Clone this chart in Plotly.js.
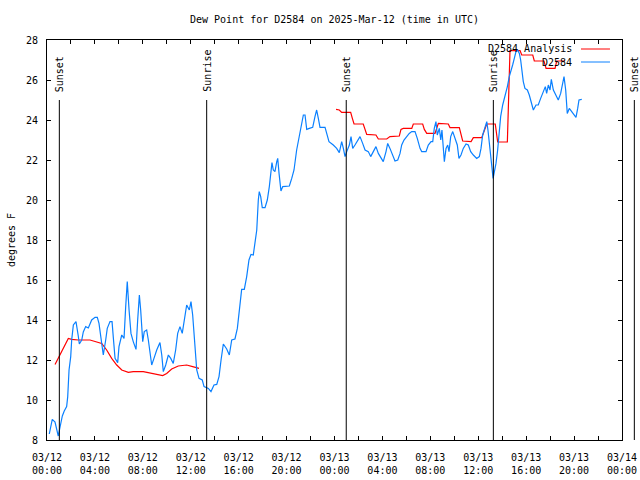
<!DOCTYPE html>
<html>
<head>
<meta charset="utf-8">
<script src="https://cdn.plot.ly/plotly-3.0.1.min.js"></script>
<style>html,body{margin:0;padding:0;background:#fff;}#chart{width:640px;height:480px;}</style>
</head>
<body>
<div id="chart"></div>
<script>
// Hours after 2025-03-12 00:00 UTC
const obsHours = [0.19,0.44,0.67,0.81,0.94,1.09,1.28,1.44,1.64,1.73,1.84,1.98,2.06,2.2,2.42,2.61,2.7,2.9,3.03,3.23,3.45,3.73,4.01,4.2,4.34,4.51,4.7,4.9,5.03,5.26,5.43,5.53,5.68,5.9,6.01,6.24,6.43,6.57,6.7,6.85,7.01,7.2,7.43,7.57,7.71,7.82,7.99,8.12,8.32,8.46,8.6,8.74,8.93,9.16,9.43,9.58,9.71,9.91,10.13,10.33,10.54,10.74,10.91,11.1,11.29,11.46,11.66,11.88,12.02,12.16,12.36,12.5,12.69,12.96,13.11,13.33,13.47,13.69,13.94,14.17,14.36,14.53,14.72,15.0,15.22,15.42,15.69,15.89,16.11,16.25,16.47,16.67,16.86,17.03,17.22,17.36,17.51,17.64,17.72,17.84,17.97,18.2,18.39,18.56,18.67,18.78,18.89,19.03,19.18,19.26,19.37,19.45,19.53,19.68,20.01,20.23,20.43,20.62,20.84,21.06,21.26,21.4,21.54,21.68,21.9,22.18,22.37,22.51,22.65,22.79,23.21,23.35,23.54,23.9,24.18,24.4,24.6,24.74,24.88,25.02,25.24,25.38,25.52,25.71,25.9,26.13,26.35,26.55,26.82,27.02,27.24,27.46,27.66,27.94,28.07,28.3,28.44,28.63,28.86,29.05,29.28,29.47,29.61,29.8,30.03,30.24,30.45,30.72,30.91,31.14,31.28,31.64,31.83,32.06,32.2,32.33,32.47,32.58,32.75,32.87,32.97,33.08,33.17,33.31,33.45,33.56,33.7,33.87,34.0,34.14,34.25,34.39,34.56,34.75,34.98,35.17,35.37,35.59,35.87,36.09,36.23,36.37,36.56,36.71,36.81,36.92,37.04,37.15,37.24,37.32,37.48,37.62,37.76,37.87,38.04,38.23,38.43,38.59,38.73,38.87,39.01,39.15,39.29,39.43,39.54,39.63,39.76,39.9,40.1,40.26,40.46,40.6,40.82,41.01,41.21,41.43,41.6,41.71,41.85,41.99,42.1,42.27,42.41,42.55,42.68,42.88,43.05,43.16,43.3,43.43,43.6,43.8,44.02,44.16,44.3,44.41,44.64];
const obsDew = [8.3,9.03,8.9,8.6,8.2,8.65,9.2,9.45,9.67,10.17,11.5,12.17,13.0,13.75,13.92,13.2,12.8,13.0,13.4,13.67,13.6,14.0,14.13,14.13,13.83,13.08,12.25,13.0,13.58,13.92,13.92,13.17,12.08,11.87,12.67,13.25,13.08,14.67,15.92,14.5,13.33,12.92,12.53,14.0,15.25,14.5,12.92,13.42,13.5,13.0,12.33,11.75,12.08,12.5,12.87,12.25,11.42,11.75,12.25,12.08,11.83,12.5,13.33,13.67,13.33,14.0,14.75,14.5,14.92,14.25,12.83,11.5,11.08,11.0,10.67,10.6,10.58,10.42,10.75,10.78,11.17,12.0,12.8,12.55,12.25,13.0,13.05,13.58,14.67,15.53,15.53,16.17,17.0,17.28,17.25,17.83,18.5,20.0,20.42,20.17,19.62,19.62,20.0,20.67,21.5,21.87,21.5,21.42,21.92,22.08,21.33,20.67,20.45,20.67,20.67,20.7,21.08,21.5,22.5,23.17,23.83,24.25,24.25,23.53,23.58,23.63,24.17,24.5,24.08,23.63,23.63,23.37,22.92,22.75,22.58,22.37,22.92,22.58,22.17,22.42,22.75,23.17,22.58,22.75,22.92,23.17,22.83,22.5,22.42,22.17,22.42,22.67,22.33,22.08,21.92,22.42,22.83,22.58,22.17,21.95,22.0,22.33,22.75,23.0,23.17,23.33,23.42,23.42,23.08,22.58,22.42,22.42,22.75,22.92,22.92,23.58,23.92,23.25,23.58,23.0,23.5,22.58,21.92,22.58,22.75,22.42,23.17,23.42,23.17,22.92,22.75,22.08,22.25,22.58,22.8,22.75,22.42,22.25,22.08,22.17,22.58,23.25,23.58,23.92,23.5,22.92,22.25,21.83,21.08,21.33,21.83,22.5,23.33,24.17,24.75,25.17,25.67,26.17,26.42,26.75,27.08,27.42,27.5,27.33,27.0,26.42,25.92,25.58,25.5,25.25,24.83,24.5,24.75,24.75,25.08,25.42,25.67,25.33,25.75,25.5,26.03,25.5,25.33,25.17,25.0,25.33,25.83,26.17,25.5,24.33,24.58,24.42,24.25,24.13,24.58,25.0,25.03];

const anaHours = [0.67,0.94,1.23,1.5,1.78,2.06,2.61,3.59,4.15,4.57,4.98,5.4,5.82,6.24,6.79,7.2,8.04,8.87,9.66,9.99,10.41,10.96,11.66,12.16,12.69,
  null,
  24.13,24.4,24.6,25.35,25.49,25.63,26.4,26.55,26.69,27.46,27.66,28.36,28.63,29.41,29.55,29.74,30.45,30.58,31.36,31.5,31.7,32.39,32.67,33.5,33.64,34.42,34.7,35.4,35.59,36.29,36.71,37.42,37.62,38.43,38.65,39.49,39.63,40.55,40.68,41.49,41.66,42.41,42.55,43.24];
const anaDew = [11.78,12.08,12.42,12.75,13.08,13.03,13.0,13.0,12.92,12.83,12.5,12.08,11.75,11.5,11.38,11.42,11.42,11.33,11.22,11.33,11.55,11.7,11.75,11.67,11.58,
  null,
  24.53,24.5,24.38,24.38,24.08,23.8,23.8,23.53,23.28,23.25,23.05,23.05,23.17,23.2,23.53,23.58,23.58,23.8,23.8,23.53,23.33,23.33,23.83,23.8,23.62,23.62,22.95,22.92,23.12,23.12,23.8,23.8,22.9,22.9,27.47,27.47,27.25,27.25,26.95,26.95,26.58,26.58,26.95,26.95];

const sunHours = [1.03, 13.33, 24.98, 37.26, 49.03];
const sunLabels = ["Sunset", "Sunrise", "Sunset", "Sunrise", "Sunset"];
const sunLineTop = 25;

const seriesNames = ["D2584 Analysis", "D2584"];
const seriesColors = ["#ff0000", "#0a80ff"];

const titleText = "Dew Point for D2584 on 2025-Mar-12 (time in UTC)";
const yTitle = "degrees F";
const yRange = [8, 28];
const rangeHours = [0, 48];

const base = Date.UTC(2025, 2, 12, 0, 0, 0);
function toDate(h) {
  if (h === null) return null;
  const d = new Date(base + Math.round(h * 3600000));
  return d.toISOString().replace('T', ' ').replace('Z', '');
}

const font = {family: "DejaVu Sans Mono, monospace", size: 10, color: "#000"};

const traces = [
  {x: anaHours.map(toDate), y: anaDew, type: 'scatter', mode: 'lines', connectgaps: false,
   line: {color: seriesColors[0], width: 1.2}, name: seriesNames[0], showlegend: false, hoverinfo: 'skip'},
  {x: obsHours.map(toDate), y: obsDew, type: 'scatter', mode: 'lines',
   line: {color: seriesColors[1], width: 1.2}, name: seriesNames[1], showlegend: false, hoverinfo: 'skip'}
];

const span = rangeHours[1] - rangeHours[0];
const shapes = [];
const annotations = [];
sunHours.forEach((h, i) => {
  const fx = (h - rangeHours[0]) / span;
  shapes.push({type: 'line', xref: 'paper', yref: 'y', x0: fx, x1: fx, y0: yRange[0], y1: sunLineTop,
    line: {color: '#000', width: 1}});
  annotations.push({xref: 'paper', yref: 'y', x: fx, y: sunLineTop, text: sunLabels[i], textangle: -90,
    showarrow: false, xanchor: 'center', yanchor: 'bottom', yshift: 6, xshift: 0, font: font});
});

// legend drawn gnuplot-style: text then sample line
const legY = [0.9775, 0.945];
seriesNames.forEach((n, i) => {
  annotations.push({xref: 'paper', yref: 'paper', x: 0.9165, y: legY[i], text: n, showarrow: false,
    xanchor: 'right', yanchor: 'middle', font: font});
  shapes.push({type: 'line', xref: 'paper', yref: 'paper', x0: 0.9287, x1: 0.9791, y0: legY[i], y1: legY[i],
    line: {color: seriesColors[i], width: 1}});
});

const layout = {
  width: 640, height: 480,
  margin: {l: 47, r: 18, t: 40, b: 40, pad: 0},
  paper_bgcolor: '#fff', plot_bgcolor: '#fff',
  font: font,
  showlegend: false,
  title: {text: titleText, font: font, x: 0.5, xref: 'paper', xanchor: 'center', y: 1 - 19/480, yref: 'container', yanchor: 'middle'},
  xaxis: {
    type: 'date', range: [toDate(rangeHours[0]), toDate(rangeHours[1])],
    dtick: 4 * 3600000, tick0: toDate(0), tickformat: '%m/%d<br>%H:%M',
    ticks: 'inside', ticklen: 4, tickcolor: '#000', tickwidth: 1,
    minor: {dtick: 2 * 3600000, ticks: 'inside', ticklen: 4, tickcolor: '#000'},
    showline: true, linecolor: '#000', linewidth: 1, mirror: 'ticks',
    showgrid: false, zeroline: false, tickfont: font, ticklabelstandoff: 8
  },
  yaxis: {
    range: yRange, dtick: 2, tick0: 8,
    ticks: 'inside', ticklen: 4, tickcolor: '#000', tickwidth: 1,
    showline: true, linecolor: '#000', linewidth: 1, mirror: 'ticks',
    showgrid: false, zeroline: false, tickfont: font, ticklabelstandoff: 6,
    title: {text: yTitle, font: font, standoff: 8}
  },
  shapes: shapes,
  annotations: annotations
};

Plotly.newPlot('chart', traces, layout, {staticPlot: true, displayModeBar: false});
</script>
</body>
</html>
